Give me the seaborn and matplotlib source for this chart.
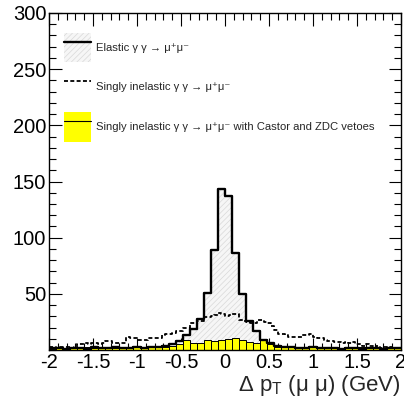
import numpy as np
import pandas as pd
import matplotlib
matplotlib.use("Agg")
import matplotlib.pyplot as plt
import seaborn as sns
from matplotlib.patches import Patch
from matplotlib.lines import Line2D
from matplotlib.legend_handler import HandlerTuple
from matplotlib.ticker import MultipleLocator

# ---- data ----
edges_coarse = [round(-2 + 0.08 * i, 4) for i in range(51)]   # 0.08 GeV bins
edges_fine = [round(-2 + 0.04 * i, 4) for i in range(101)]    # 0.04 GeV bins

elastic = [2, 2, 1, 2, 2, 1, 3, 2, 2, 3, 2, 2, 3, 2, 3, 3,
           4, 5, 8, 13, 19, 28, 51, 89, 143, 137, 86, 50, 26, 17, 9, 6,
           4, 3, 3, 2, 2, 3, 2, 2, 2, 1, 2, 2, 1, 2, 2, 1, 2, 2]

singly = [3, 3, 2, 3, 3, 3, 2, 3, 5, 5, 6, 5, 6, 6, 5, 6, 8, 8, 6, 6,
          6, 6, 12, 11, 11, 9, 9, 9, 11, 11, 11, 11, 13, 14, 14, 15, 17, 17, 20, 20,
          24, 24, 26, 26, 29, 29, 30, 31, 33, 32, 30, 31, 32, 32, 27, 26, 25, 24, 24, 27,
          27, 25, 24, 21, 18, 14, 14, 13, 12, 12, 12, 12, 13, 13, 14, 12, 11, 11, 9, 8,
          8, 7, 7, 6, 7, 6, 7, 5, 5, 4, 5, 4, 3, 4, 2, 3, 2, 3, 2, 2]

vetoed = [1, 2, 1, 2, 2, 3, 2, 3, 3, 2, 3, 2, 3, 2, 3, 3, 3, 4,
          5, 9, 6, 6, 9, 8, 9, 10, 11, 9, 7, 6, 10, 5,
          3, 3, 3, 2, 2, 3, 2, 2, 3, 2, 2, 2, 3, 2, 2, 2, 3, 2]

x_ticks = [-2, -1.5, -1, -0.5, 0, 0.5, 1, 1.5, 2]
x_ticklabels = ["-2", "-1.5", "-1", "-0.5", "0", "0.5", "1", "1.5", "2"]
y_ticks = [50, 100, 150, 200, 250, 300]
y_ticklabels = ["50", "100", "150", "200", "250", "300"]

labels = ["Elastic γ γ → μ⁺μ⁻",
          "Singly inelastic γ γ → μ⁺μ⁻",
          "Singly inelastic γ γ → μ⁺μ⁻ with Castor and ZDC vetoes"]

# ---- tables ----
def centers(e):
    e = np.asarray(e)
    return (e[:-1] + e[1:]) / 2

df_el = pd.DataFrame({"x": centers(edges_coarse), "w": elastic})
df_si = pd.DataFrame({"x": centers(edges_fine), "w": singly})
df_ve = pd.DataFrame({"x": centers(edges_coarse), "w": vetoed})

# ---- style ----
sns.set_style("ticks")
plt.rcParams["font.family"] = ["Liberation Sans", "DejaVu Sans"]
plt.rcParams["mathtext.fontset"] = "custom"
plt.rcParams["mathtext.rm"] = "Liberation Sans"
plt.rcParams["hatch.linewidth"] = 0.5

fig = plt.figure(figsize=(4.04, 4.01), dpi=100)
ax = fig.add_axes([49 / 404, 1 - 350 / 401, 352 / 404, 337 / 401])

# elastic hatched fill
sns.histplot(data=df_el, x="x", weights="w", bins=edges_coarse, element="step",
             fill=True, alpha=1, facecolor="#f6f6f6", edgecolor="#d8d8d8",
             hatch="//////", linewidth=0, ax=ax, zorder=1)
# vetoed yellow bars
sns.histplot(data=df_ve, x="x", weights="w", bins=edges_coarse, element="bars",
             fill=True, alpha=1, facecolor="#ffff00", edgecolor="black",
             linewidth=0.7, ax=ax, zorder=2)
# singly inelastic dashed
sns.histplot(data=df_si, x="x", weights="w", bins=edges_fine, element="step",
             fill=False, color="black", linestyle=(0, (2.2, 1.3)), linewidth=1.3,
             ax=ax, zorder=3)
# elastic outline
sns.histplot(data=df_el, x="x", weights="w", bins=edges_coarse, element="step",
             fill=False, color="black", linewidth=1.7, ax=ax, zorder=4)

ax.set_xlim(-2, 2)
ax.set_ylim(0, 300)
ax.set_xticks(x_ticks)
ax.set_xticklabels(x_ticklabels)
ax.set_yticks(y_ticks)
ax.set_yticklabels(y_ticklabels)
ax.xaxis.set_minor_locator(MultipleLocator(0.1))
ax.yaxis.set_minor_locator(MultipleLocator(10))
ax.tick_params(which="both", direction="in", top=True, right=True,
               labelsize=14.5, colors="black", width=0.8)
ax.tick_params(which="major", length=9, pad=2)
ax.tick_params(which="minor", length=5)
for s in ax.spines.values():
    s.set_linewidth(1.0)
    s.set_color("black")
ax.set_ylabel("")
ax.set_xlabel(r"Δ p$_\mathregular{T}$ (μ μ) (GeV)", fontsize=16, loc="right",
              labelpad=1)

# legend
h_el = (Patch(facecolor="#f6f6f6", edgecolor="#d8d8d8", hatch="//////", linewidth=0),
        Line2D([], [], color="black", linewidth=1.7))
h_si = Line2D([], [], color="black", linestyle=(0, (2.2, 1.3)), linewidth=1.3)
h_ve = (Patch(facecolor="#ffff00", edgecolor="none"),
        Line2D([], [], color="black", linewidth=0.8))
ax.legend([h_el, h_si, h_ve], labels, handler_map={tuple: HandlerTuple(ndivide=1, pad=0)},
          loc="upper left", bbox_to_anchor=(0.043, 0.942), frameon=False,
          fontsize=8.1, handlelength=2.4, handleheight=3.7, labelspacing=0.9,
          handletextpad=0.45, borderaxespad=0, borderpad=0)

fig.savefig("out.png", dpi=100)
